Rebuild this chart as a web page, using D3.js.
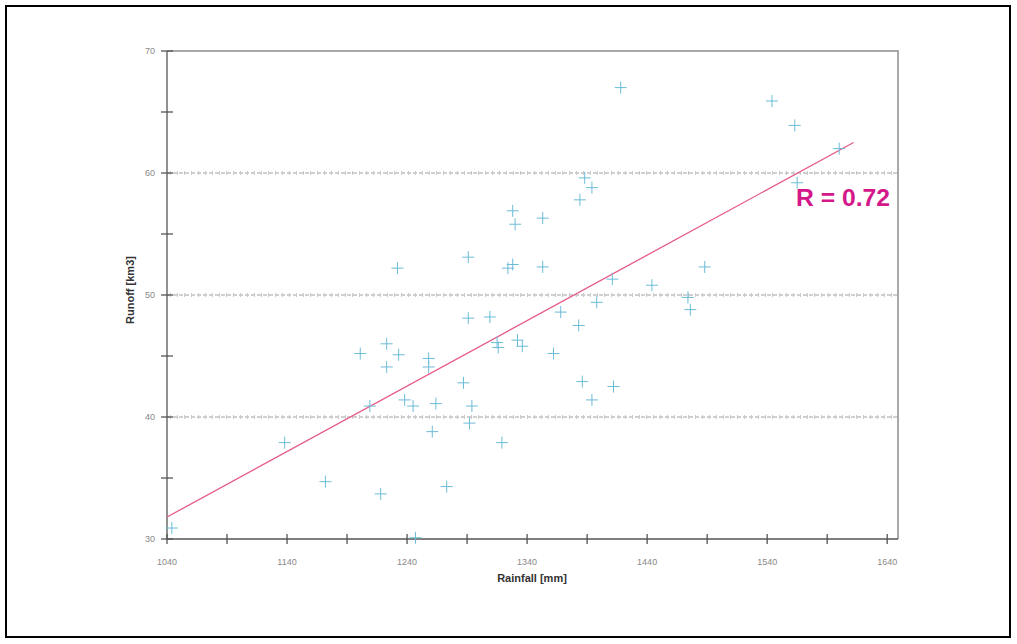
<!DOCTYPE html>
<html>
<head>
<meta charset="utf-8">
<script src="https://cdn.jsdelivr.net/npm/d3@7"></script>
<style>
  html, body { margin: 0; padding: 0; background: #fff; }
  svg { display: block; font-family: Arial, "Liberation Sans", sans-serif; }
</style>
</head>
<body>
<svg id="chart" width="1017" height="644"></svg>
<script>
// === Datos ===
const rainfall = [1044, 1138, 1172, 1218, 1201, 1223, 1223, 1233, 1232, 1209,
  1238, 1245, 1247, 1258, 1258, 1261, 1264, 1273, 1287, 1291,
  1291, 1294, 1292, 1309, 1315, 1316, 1319, 1324, 1328, 1328,
  1330, 1332, 1336, 1353, 1353, 1362, 1368, 1383, 1384, 1388,
  1394, 1386, 1394, 1398, 1411, 1412, 1418, 1444, 1474, 1476,
  1488, 1544, 1563, 1600, 1565];
const runoff = [30.9, 37.9, 34.7, 33.7, 45.2, 46.0, 44.1, 45.1, 52.2, 40.9,
  41.4, 40.9, 30.1, 44.8, 44.1, 38.8, 41.1, 34.3, 42.8, 53.1,
  48.1, 40.9, 39.5, 48.2, 46.1, 45.7, 37.9, 52.2, 52.5, 56.9,
  55.8, 46.3, 45.8, 52.3, 56.3, 45.2, 48.6, 47.5, 57.8, 59.6,
  58.8, 42.9, 41.4, 49.4, 51.3, 42.5, 67.0, 50.8, 49.8, 48.8,
  52.3, 65.9, 63.9, 62.0, 59.2];
const fitX = [1040, 1612];
const fitY = [31.8, 62.5];
const xTicks = [1040, 1140, 1240, 1340, 1440, 1540, 1640];
const xMinor = [1090, 1190, 1290, 1390, 1490, 1590];
const yTicks = [30, 40, 50, 60, 70];
const yMinor = [35, 45, 55, 65];
const gridVals = [40, 50, 60];
const rLabel = 'R = 0.72';

// === Escalas ===
const svg = d3.select('#chart');
const x = d3.scaleLinear().domain([1040, 1649]).range([167, 898]);
const y = d3.scaleLinear().domain([30, 70]).range([539, 51]);

// marco exterior
svg.append('rect').attr('x', 6).attr('y', 6).attr('width', 1004).attr('height', 631)
  .attr('fill', 'none').attr('stroke', '#000').attr('stroke-width', 2);

// grilla punteada
const grid = svg.append('g');
gridVals.forEach(v => {
  grid.append('line').attr('x1', x(1040)).attr('x2', x(1649)).attr('y1', y(v)).attr('y2', y(v))
    .attr('stroke', '#a0a0a0').attr('stroke-width', 1).attr('stroke-dasharray', '4,2');
  grid.append('line').attr('x1', x(1040) + 3).attr('x2', x(1649)).attr('y1', y(v)).attr('y2', y(v))
    .attr('stroke', '#cacaca').attr('stroke-width', 4).attr('stroke-dasharray', '1,6');
});

// borde superior y derecho
svg.append('path')
  .attr('d', `M${x(1040)},${y(70)}H${x(1649)}V${y(30)}`)
  .attr('fill', 'none').attr('stroke', '#a8a8a8').attr('stroke-width', 2);

// ejes
const axes = svg.append('g').attr('stroke', '#555').attr('stroke-width', 1.3);
axes.append('line').attr('x1', x(1040)).attr('x2', x(1649)).attr('y1', y(30)).attr('y2', y(30));
axes.append('line').attr('x1', x(1040)).attr('x2', x(1040)).attr('y1', y(30)).attr('y2', y(70));
xTicks.concat(xMinor).forEach(v => {
  axes.append('line').attr('x1', x(v)).attr('x2', x(v)).attr('y1', y(30) - 5).attr('y2', y(30) + 5);
});
yTicks.concat(yMinor).forEach(v => {
  axes.append('line').attr('x1', x(1040) - 6).attr('x2', x(1040) + 6).attr('y1', y(v)).attr('y2', y(v));
});

// etiquetas de ticks
svg.append('g').selectAll('text').data(xTicks).join('text')
  .attr('x', d => x(d)).attr('y', y(30) + 26)
  .attr('text-anchor', 'middle').attr('font-size', 9).attr('fill', '#888')
  .text(d => d);
svg.append('g').selectAll('text').data(yTicks).join('text')
  .attr('x', x(1040) - 12).attr('y', d => y(d) + 3)
  .attr('text-anchor', 'end').attr('font-size', 9).attr('fill', '#888')
  .text(d => d);

// títulos
svg.append('text').attr('x', 532).attr('y', 582).attr('text-anchor', 'middle')
  .attr('font-size', 11).attr('font-weight', 'bold').attr('fill', '#333')
  .text('Rainfall [mm]');
svg.append('text').attr('transform', 'translate(134,290) rotate(-90)').attr('text-anchor', 'middle')
  .attr('font-size', 11).attr('font-weight', 'bold').attr('fill', '#333')
  .text('Runoff [km3]');

// recta de regresión
svg.append('line')
  .attr('x1', x(fitX[0])).attr('y1', y(fitY[0]))
  .attr('x2', x(fitX[1])).attr('y2', y(fitY[1]))
  .attr('stroke', '#e65a88').attr('stroke-width', 1.3);

// puntos (cruces)
const pts = svg.append('g').attr('stroke', '#6cbcd8').attr('stroke-width', 1);
rainfall.forEach((r, i) => {
  const cx = x(r), cy = y(runoff[i]);
  pts.append('path').attr('d', `M${cx - 6},${cy}H${cx + 6}M${cx},${cy - 6}V${cy + 6}`);
});

// R
svg.append('text').attr('x', 796).attr('y', 206)
  .attr('font-size', 23).attr('font-weight', 'bold').attr('fill', '#d4188a')
  .attr('textLength', 94).attr('lengthAdjust', 'spacingAndGlyphs')
  .text(rLabel);
</script>
</body>
</html>
